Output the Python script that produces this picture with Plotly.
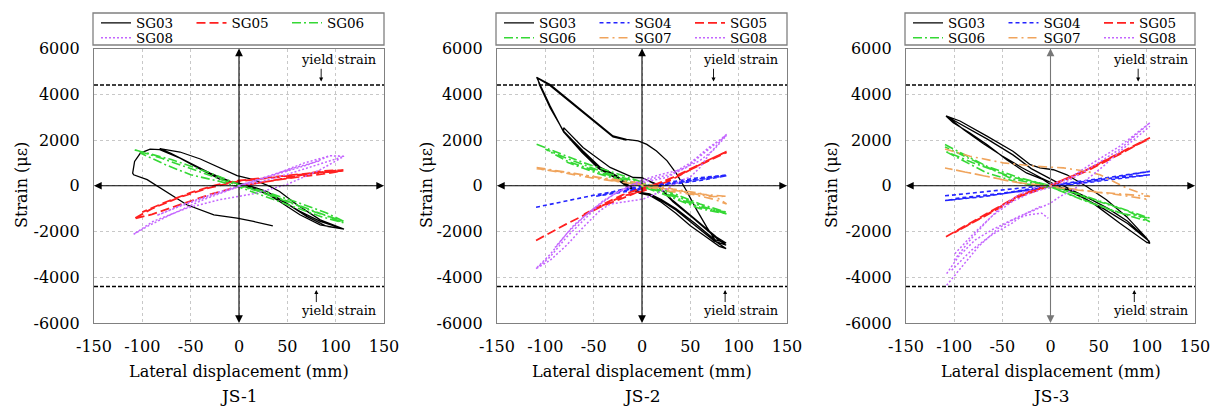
import plotly.graph_objects as go

# ---------------- data ----------------
# JS-1
js1_sg03_x = [0, 22, 42, 63, 84, 108.6, 91, 70, 49, 29, 8, -9, -30, -54, -71, -82,
              -61, -40, -20, -2, 15, 32, 42, 60, 84, 108.6,
              84, 63, 42, 22, 1, -20, -40, -61, -82,
              -92, -102, -108, -110, -109, -95, -78, -54, -26, -2, 15, 35]
js1_sg03_y = [50, -250, -610, -1120, -1560, -1900, -1780, -1340, -760, -250, 40, 190, 555, 1065, 1430, 1620,
              1475, 1170, 775, 440, 265, -30, -250, -830, -1490, -1900,
              -1710, -1270, -690, -175, 75, 290, 730, 1210, 1580,
              1605, 1430, 1065, 555, 480, 265, -175, -830, -1270, -1415, -1560, -1750]
js1_sg05_x = [0, 30, 60, 90, 108, 80, 50, 20, 0, -30, -60, -90, -109, -90, -60, -30, 0, 30, 60, 85, 108,
              85, 55, 25, 0, -25, -50, -75, -100]
js1_sg05_y = [0, 200, 380, 530, 650, 560, 430, 300, 200, -80, -480, -1000, -1450, -1250, -820, -380, -30, 180, 420, 650, 680,
              600, 470, 330, 230, 20, -300, -700, -1150]
js1_sg06_x = [0, 30, 60, 90, 108.6, 80, 50, 20, 0, -30, -70, -100, -109,
              -80, -50, -20, 0, 30, 60, 90, 108,
              85, 55, 25, 0, -20, -50, -75, -102]
js1_sg06_y = [50, -300, -720, -1180, -1560, -1170, -700, -250, 60, 560, 1150, 1480, 1580,
              1200, 760, 300, 0, -360, -820, -1300, -1620,
              -1350, -900, -420, -50, 190, 480, 900, 1430]
js1_sg08_x = [0, 20, 45, 70, 94, 108.6, 84, 49, 15, -20, -54, -89, -109, -95, -71, -37, 0, 32, 67, 94, 108.6,
              80, 50, 20, 0, -30, -60, -85, -60, -30, 0, 30, 60, 85]
js1_sg08_y = [0, 250, 560, 900, 1310, 1285, 700, 45, -350, -610, -980, -1560, -2120, -1780, -1270, -610, -30, 410, 990, 1310, 1285,
              900, 500, 150, -40, -450, -880, -1300, -850, -400, 20, 420, 820, 1100]

# JS-2
js2_sg03_x = [0, 15, 32, 53, 77, 87, 75, 55, 35, 20, 8, -2, -15, -26, -43, -61, -81, -81, -61, -33, -9, 0,
              15, 32, 53, 77, 87, 75, 55, 35, 20, 8, -2, -15, -26, -43, -61, -81, -95, -105, -109,
              -95, -78, -61, -44, -30, -16, -4, 5, 15, 26, 36, 46, 57, 67, 77, 87,
              80, 65, 50, 35, 20, 8, -2, -15, -28, -45, -62, -80, -95, -106, -108,
              -95, -78, -61, -44, -30, -16]
js2_sg03_y = [350, 70, -650, -1375, -2245, -2506, -2350, -1650, -1000, -600, -350, -290, 50, 430, 800, 1520, 2390, 2540, 1670, 800, 360, 350,
              40, -700, -1420, -2300, -2600, -2420, -1720, -1060, -650, -400, -330, 0, 380, 760, 1480, 2350, 3480, 4420, 4740,
              4420, 3840, 3260, 2680, 2175, 2030, 1960, 1810, 1520, 1090, 510, -220, -1090, -1810, -2460, -2750,
              -2650, -2200, -1750, -1200, -720, -420, -330, -50, 350, 750, 1450, 2300, 3400, 4400, 4700,
              4370, 3790, 3210, 2630, 2140, 2000]
js2_sg04_x = [-109.6, -78, -60, -43.5, -20, 1.4, 25.5, 60, 87.5, 60, 30, 0, -20, -45, -20, 0, 25, 55, 87.5, 60, 30, 0, -30, -50]
js2_sg04_y = [-940, -650, -500, -360, -200, -70, 75, 290, 436, 230, 60, -150, -280, -440, -150, -20, 120, 330, 470, 320, 100, -100, -300, -480]
js2_sg05_x = [-109.6, -78, -43.5, -9, 1.4, 15, 32, 53, 74, 87.5, 70, 50, 30, 10, 0, -20, -40, -60, -40, -20, 0, 20, 40, 60, 80, 87.5]
js2_sg05_y = [-2390, -1665, -940, -360, -145, 75, 365, 800, 1230, 1494, 1150, 700, 250, -100, -250, -450, -850, -1250, -800, -400, -100, 150, 500, 900, 1300, 1460]
js2_sg06_x = [-109, -61, -9, 25.5, 60, 87.5, 60, 25.5, -9, -43.5, -78, -100, -78, -43.5, -9, 25.5, 60, 87.5, 60, 25, -9, -45, -78]
js2_sg06_y = [1812, 1016, 290, -215, -795, -1160, -940, -360, 146, 580, 1088, 1600, 1200, 650, 220, -290, -870, -1230, -1000, -420, 100, 520, 1040]
js2_sg07_x = [-109, -78, -43.5, 1.4, 32, 60, 77, 87.5, 75, 55, 30, 0, -30, -60, -90, -109, -80, -50, -20, 10, 40, 65, 87.5, 70, 50, 20, -10]
js2_sg07_y = [798, 580, 363, 103, -144, -332, -506, -796, -600, -400, -250, 0, 250, 470, 650, 750, 560, 330, 150, -50, -230, -380, -460, -470, -330, -120, 120]
js2_sg08_x = [-109.6, -95, -78, -61, -43.5, -26, 1.4, 25.5, 46, 67, 87.5,
              80, 70, 60, 50, 39.3, 25.5, 1.4, -33, -43.5, -60.7, -78, -95, -109.6,
              -95, -78, -60, -40, -20, 0, 20, 40, 60, 75, 87.5, 70, 50, 30, 10, -10, -30, -50, -70, -90]
js2_sg08_y = [-3620, -3110, -2245, -1520, -800, -290, 145, 365, 800, 1520, 2250,
              1900, 1400, 800, 380, 220, -145, -580, -800, -1085, -1810, -2600, -3260, -3620,
              -3000, -2100, -1350, -650, -150, 250, 500, 700, 1100, 1600, 2200, 1700, 1000, 500, 300, 50, -400, -1000, -1700, -2700]

# JS-3
js3_sg03_x = [-108.5, -94, -66, -39, -21, -11, 3, 17, 37.5, 58, 79, 100, 103.2,
              100, 72, 44, 20, 3, -7.5, -25, -45.5, -66, -84, -101, -108.5,
              -94, -66, -39, -20, 0, 20, 40, 60, 80, 103, 80, 55, 30, 10, -10, -30, -50, -70, -90, -105]
js3_sg03_y = [3050, 2830, 2170, 1510, 920, 780, 700, 480, -30, -615, -1350, -2300, -2520,
              -2480, -1640, -760, -175, -30, 265, 560, 1140, 1800, 2320, 2755, 3050,
              2700, 2050, 1350, 750, 300, -150, -550, -1000, -1550, -2450, -1650, -1000, -450, -50, 350, 800, 1300, 1850, 2450, 2950]
js3_sg04_x = [-109.5, -50, 2.9, 50, 103.2, 50, 0, -31.7, -70, -109.5, -70, -30, 0, 50, 103.2, 50, 0, -50, -100]
js3_sg04_y = [-440, -200, 45, 300, 630, 240, -30, -250, -450, -645, -480, -220, -60, 200, 480, 270, 0, -330, -560]
js3_sg05_x = [-108.5, -66, -31.7, 2.9, 37.5, 72, 103.2, 72, 37.5, 0, -31.7, -66, -100, -70, -35, 0, 35, 70, 100]
js3_sg05_y = [-2230, -1200, -395, 75, 700, 1440, 2100, 1380, 640, 0, -470, -1280, -2050, -1350, -500, 30, 640, 1370, 2000]
js3_sg06_x = [-109.5, -66, -31.7, 2.9, 37.5, 72, 103.2, 72, 37.5, 2.9, -31.7, -66, -109.5,
              -80, -40, 0, 40, 80, 103.2, 80, 40, 0, -40, -80, -109.5]
js3_sg06_y = [1800, 850, 340, -30, -470, -980, -1420, -1200, -690, -100, 120, 560, 1510,
              1000, 380, 0, -560, -1100, -1570, -1300, -700, -50, 300, 1100, 1700]
js3_sg07_x = [-109.5, -83.6, -49, -14.4, 13.3, 37.5, 51.3, 65.2, 79, 103.2,
              80, 50, 20, 0, -31.7, -66.3, -109.5, -80, -40, 0, 40, 72, 103.2]
js3_sg07_y = [1610, 1290, 1000, 850, 780, 630, 480, 190, -100, -470,
              -400, -280, -120, 0, 120, 410, 780, 500, 180, -50, -250, -400, -610]
js3_sg08_x = [-100, -85, -68, -51, -33, -16, 0, 20, 44, 72, 103.2,
              72, 44, 20, 0, -20, -40, -60, -80, -100, None,
              -107.8, -92.2, -75, -54.2, -33.4, -16.1, 0, 9.8, 23.7, 37.5, 54.8, 72, 103.2, None,
              -107.8, -95.7, -78.4, -61.1, -40.3, -23, -9.2, -2.3, None,
              -102.6, -81.9, -61.1, -40.3, -25, -10]
js3_sg08_y = [-3250, -2450, -1640, -910, -400, -100, 44, 340, 1000, 1730, 2755,
              1600, 850, 250, -60, -300, -700, -1300, -2100, -3000, None,
              -4350, -3545, -2667, -1861, -1349, -1055, -762, -468, -175, 264, 851, 1500, 2600, None,
              -3840, -3106, -2374, -1934, -1495, -1275, -1200, -1420, None,
              -3692, -2813, -2154, -1641, -1200, -900]

panels = [
    ("JS-1", [("SG03", js1_sg03_x, js1_sg03_y), ("SG05", js1_sg05_x, js1_sg05_y),
              ("SG06", js1_sg06_x, js1_sg06_y), ("SG08", js1_sg08_x, js1_sg08_y)]),
    ("JS-2", [("SG03", js2_sg03_x, js2_sg03_y), ("SG04", js2_sg04_x, js2_sg04_y),
              ("SG05", js2_sg05_x, js2_sg05_y), ("SG06", js2_sg06_x, js2_sg06_y),
              ("SG07", js2_sg07_x, js2_sg07_y), ("SG08", js2_sg08_x, js2_sg08_y)]),
    ("JS-3", [("SG03", js3_sg03_x, js3_sg03_y), ("SG04", js3_sg04_x, js3_sg04_y),
              ("SG05", js3_sg05_x, js3_sg05_y), ("SG06", js3_sg06_x, js3_sg06_y),
              ("SG07", js3_sg07_x, js3_sg07_y), ("SG08", js3_sg08_x, js3_sg08_y)]),
]

x_ticks = [-150, -100, -50, 0, 50, 100, 150]
y_ticks = [-6000, -4000, -2000, 0, 2000, 4000, 6000]
yield_strain = 4400

# ---------------- styling ----------------
FONT = "DejaVu Serif"
styles = {
    "SG03": dict(color="#000000", dash="solid", width=1.3),
    "SG04": dict(color="#2424ff", dash="4px,3px", width=1.6),
    "SG05": dict(color="#ff2020", dash="9px,4px", width=1.8),
    "SG06": dict(color="#35d835", dash="9px,3px,2px,3px", width=1.6),
    "SG07": dict(color="#f0a45c", dash="9px,4px,2px,4px", width=1.6),
    "SG08": dict(color="#c466ff", dash="2px,2px", width=1.5),
}

W, H = 1215, 406
xdoms = [(94, 384), (497, 787), (906, 1195)]
ytop, ybot = 48.5, 323
ydom = [1 - ybot / H, 1 - ytop / H]
ytitle_x = [22, 427, 832]
upper_arrow_x = [85, 74, 91]
lower_arrow_x = [80, 86, 87]
text_x = [103, 102, 104]
vaxis_color = ["#000000", "#000000", "#777777"]
legend_row_center = [23, 38]

fig = go.Figure()
layout = dict(width=W, height=H, margin=dict(l=0, r=0, t=0, b=0, autoexpand=False),
              paper_bgcolor="white", plot_bgcolor="white",
              font=dict(family=FONT, size=16, color="black"), showlegend=True)
annotations = []
shapes = []
leg_count = 0

for i, (label, series) in enumerate(panels):
    sfx = "" if i == 0 else str(i + 1)
    xa, ya = "x" + sfx, "y" + sfx
    x0, x1 = xdoms[i]
    # two legend rows per panel (3 entries each)
    row_legs = []
    for r in range(2):
        leg_count += 1
        lname = "legend" if leg_count == 1 else "legend" + str(leg_count)
        row_legs.append(lname)
        layout[lname] = dict(orientation="h", x=(x0 + 2) / W, y=1 - legend_row_center[r] / H,
                             xanchor="left", yanchor="middle", borderwidth=0,
                             bgcolor="rgba(0,0,0,0)",
                             font=dict(family=FONT, size=13.5, color="black"),
                             entrywidth=50.5, itemwidth=30, tracegroupgap=0)
    for k, (name, xs, ys) in enumerate(series):
        st = styles[name]
        fig.add_trace(go.Scatter(x=xs, y=ys, mode="lines", name=name, xaxis=xa, yaxis=ya,
                                 legend=row_legs[k // 3], connectgaps=False,
                                 line=dict(color=st["color"], dash=st["dash"], width=st["width"])))
    # legend frame
    shapes.append(dict(type="rect", xref="paper", yref="paper", x0=(x0 - 1) / W, x1=x1 / W,
                       y0=1 - 45 / H, y1=1 - 13 / H, line=dict(color="#808080", width=1.3)))
    common = dict(showgrid=True, gridcolor="#c8c8c8", griddash="3px,3px", gridwidth=1,
                  zeroline=False, showline=True, mirror=True, linecolor="#808080", linewidth=1.3,
                  ticks="", tickangle=0, tickfont=dict(family=FONT, size=16, color="black"))
    layout["xaxis" + sfx] = dict(domain=[x0 / W, x1 / W], range=[-150, 150], anchor=ya,
                                 tickvals=x_ticks, ticktext=[str(v) for v in x_ticks],
                                 ticklabelstandoff=9, **common)
    layout["yaxis" + sfx] = dict(domain=ydom, range=[-6000, 6000], anchor=xa,
                                 tickvals=y_ticks, ticktext=[str(v) for v in y_ticks],
                                 ticklabelstandoff=10, **common)
    # yield strain lines
    for yv in (yield_strain, -yield_strain):
        shapes.append(dict(type="line", xref=xa, yref=ya, x0=-150, x1=150, y0=yv, y1=yv,
                           line=dict(color="black", width=1.5, dash="4px,2px")))
    # central axes with arrows
    for (hx, hy, col) in [(-150, 0, "black"), (150, 0, "black"),
                          (0, 6000, vaxis_color[i]), (0, -6000, vaxis_color[i])]:
        annotations.append(dict(x=hx, y=hy, ax=0, ay=0, xref=xa, yref=ya, axref=xa, ayref=ya,
                                text="", showarrow=True, arrowhead=2, arrowsize=1.4, arrowwidth=1.1,
                                arrowcolor=col, standoff=0))
    # yield strain labels
    annotations.append(dict(x=text_x[i], y=5520, xref=xa, yref=ya, text="yield strain", showarrow=False,
                            font=dict(family=FONT, size=13, color="black")))
    annotations.append(dict(x=text_x[i], y=-5470, xref=xa, yref=ya, text="yield strain", showarrow=False,
                            font=dict(family=FONT, size=13, color="black")))
    annotations.append(dict(x=upper_arrow_x[i], y=4560, ax=upper_arrow_x[i], ay=5180,
                            xref=xa, yref=ya, axref=xa, ayref=ya, text="", showarrow=True,
                            arrowhead=2, arrowsize=0.9, arrowwidth=0.9, arrowcolor="black", standoff=0))
    annotations.append(dict(x=lower_arrow_x[i], y=-4560, ax=lower_arrow_x[i], ay=-5150,
                            xref=xa, yref=ya, axref=xa, ayref=ya, text="", showarrow=True,
                            arrowhead=2, arrowsize=0.9, arrowwidth=0.9, arrowcolor="black", standoff=0))
    # titles
    cx = (x0 + x1) / 2 / W
    annotations.append(dict(x=cx, y=1 - 371 / H, xref="paper", yref="paper", text="Lateral displacement (mm)",
                            showarrow=False, font=dict(family=FONT, size=16, color="black"),
                            xanchor="center", yanchor="middle"))
    annotations.append(dict(x=cx, y=1 - 396 / H, xref="paper", yref="paper", text=label,
                            showarrow=False, font=dict(family=FONT, size=17, color="black"),
                            xanchor="center", yanchor="middle"))
    annotations.append(dict(x=ytitle_x[i] / W, y=1 - 185 / H, xref="paper", yref="paper", text="Strain (με)",
                            textangle=-90, showarrow=False, font=dict(family=FONT, size=16, color="black"),
                            xanchor="center", yanchor="middle"))

layout["annotations"] = annotations
layout["shapes"] = shapes
fig.update_layout(**layout)
fig.write_html("out.html")
